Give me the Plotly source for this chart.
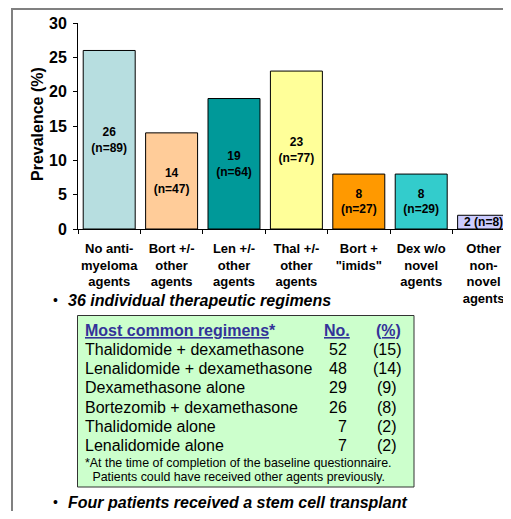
import plotly.graph_objects as go

categories = ["No anti-<br>myeloma<br>agents", "Bort +/-<br>other<br>agents", "Len +/-<br>other<br>agents",
              "Thal +/-<br>other<br>agents", "Bort +<br>\"imids\"", "Dex w/o<br>novel<br>agents",
              "Other<br>non-<br>novel<br>agents"]
prevalence = [26, 14, 19, 23, 8, 8, 2]
counts = [89, 47, 64, 77, 27, 29, 8]
bar_colors = ["#B7DEE0", "#FFCC99", "#009999", "#FFFF99", "#FF9900", "#33CCCC", "#CCCCFF"]

regimens = ["Thalidomide + dexamethasone", "Lenalidomide + dexamethasone", "Dexamethasone alone",
            "Bortezomib + dexamethasone", "Thalidomide alone", "Lenalidomide alone"]
reg_no = [52, 48, 29, 26, 7, 7]
reg_pct = [15, 14, 9, 8, 2, 2]

# The page body has an 8px margin, so the figure starts at page (8, 8).
OFF = 8
W, H = 511 - OFF, 519 - 2 * OFF
L, R, T, B = 78, 511, 23, 229  # plot area in page pixels


def px(x):
    return (x - L) / (R - L)


def py(y):
    return (B - y) / (B - T)


bar_text = [f"{v}<br>(n={n})" if v > 5 else f"{v} (n={n})" for v, n in zip(prevalence, counts)]

fig = go.Figure(go.Bar(
    x=categories, y=prevalence, marker=dict(color=bar_colors, line=dict(color="black", width=1)),
    text=bar_text, textposition="inside", insidetextanchor="middle", constraintext="none",
    textfont=dict(family="Arial, Liberation Sans", size=12, color="black", weight="bold"),
    hoverinfo="skip"))

fig.update_layout(
    width=W, height=H,
    margin=dict(l=L - OFF, r=(511 - OFF) - (R - OFF), t=T - OFF, b=H - (B - OFF), pad=0),
    plot_bgcolor="white", paper_bgcolor="white", showlegend=False, bargap=0.167,
    font=dict(family="Arial, Liberation Sans", color="black"),
)
fig.update_xaxes(type="category", range=[-0.5, -0.5 + (R - L) / 62.4], showline=True, linecolor="black",
                 linewidth=1, ticks="outside", tickson="boundaries", ticklen=4, tickcolor="black",
                 tickfont=dict(size=13, weight="bold"), showgrid=False, tickangle=0, ticklabelstandoff=7,
                 automargin=False)
fig.update_yaxes(range=[0, 30], tickvals=[0, 5, 10, 15, 20, 25, 30], showline=True, linecolor="black",
                 linewidth=1, ticks="outside", ticklen=4, tickcolor="black", showgrid=False, zeroline=False,
                 tickfont=dict(size=16, weight="bold"), ticklabelstandoff=3, automargin=False)

shapes = []
# frame lines
shapes.append(dict(type="line", xref="paper", yref="paper", x0=px(12), x1=px(W + 20), y0=py(9), y1=py(9),
                   line=dict(color="#808080", width=2)))
shapes.append(dict(type="line", xref="paper", yref="paper", x0=px(12), x1=px(12), y0=py(8), y1=py(H + 40),
                   line=dict(color="#808080", width=2)))
# table box
shapes.append(dict(type="rect", xref="paper", yref="paper", x0=px(77.5), x1=px(414), y0=py(315.5), y1=py(487),
                   fillcolor="#CCFFCC", line=dict(color="#333333", width=1), layer="below"))
fig.update_layout(shapes=shapes)

ann = []


def add(text, x, y, xanchor="left", size=16, color="black", **kw):
    ann.append(dict(text=text, x=px(x), y=py(y), xref="paper", yref="paper", xanchor=xanchor, yanchor="middle",
                    showarrow=False, font=dict(size=size, color=color), **kw))


add("<b>Prevalence (%)</b>", 37, 124, xanchor="center", textangle=-90)
add("•", 51, 300, size=14)
add("<b><i>36 individual therapeutic regimens</i></b>", 66, 300)
add("•", 51, 502, size=14)
add("<b><i>Four patients received a stem cell transplant</i></b>", 66, 502)

hdr = "#333399"
add("<b><u>Most common regimens</u>*</b>", 83, 330, color=hdr)
add("<b><u>No.</u></b>", 337, 330, xanchor="center", color=hdr)
add("<b><u>(%)</u></b>", 388, 330, xanchor="center", color=hdr)
row_y = [349, 368, 387.5, 407, 426, 445]
for name, n, p, yy in zip(regimens, reg_no, reg_pct, row_y):
    add(name, 83, yy)
    add(str(n), 349, yy, xanchor="right")
    add(f"({p})", 387, yy, xanchor="center")
add("*At the time of completion of the baseline questionnaire.", 83, 463, size=12.4)
add(" Patients could have received other agents previously.", 87, 477, size=12.4)

fig.update_layout(annotations=ann)
fig.write_html("out.html")
